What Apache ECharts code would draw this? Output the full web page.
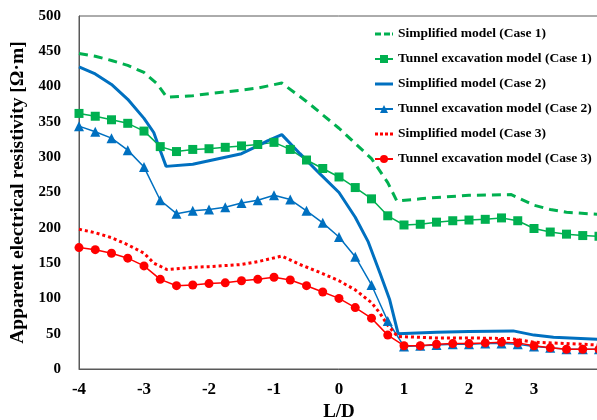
<!DOCTYPE html>
<html>
<head>
<meta charset="utf-8">
<script src="https://cdn.jsdelivr.net/npm/echarts@6/dist/echarts.min.js"></script>
<style>
html,body{margin:0;padding:0;background:#fff;}
#chart{width:597px;height:420px;}
</style>
</head>
<body>
<div id="chart"></div>
<script>
// ---- data ----
var legendNames = [
  'Simplified model (Case 1)',
  'Tunnel excavation model (Case 1)',
  'Simplified model (Case 2)',
  'Tunnel excavation model (Case 2)',
  'Simplified model (Case 3)',
  'Tunnel excavation model (Case 3)'
];
var ldTunnel = [-4,-3.75,-3.5,-3.25,-3,-2.75,-2.5,-2.25,-2,-1.75,-1.5,-1.25,-1,-0.75,-0.5,-0.25,0,0.25,0.5,0.75,1,1.25,1.5,1.75,2,2.25,2.5,2.75,3,3.25,3.5,3.75,4];
var tunnel1 = [362,358,353,348,337,315,308,311,312,314,316,318,321,311,296,284,272,257,241,217,204,205,208,210,211,212,214,210,199,194,191,189,188];
var tunnel2 = [344,336,327,310,286,239,220,224,226,229,235,239,246,240,224,207,187,159,119,68,32,33,34,35,35,36,36,35,32,30,28,28,28];
var tunnel3 = [172,169,164,157,146,127,118,119,121,122,125,127,130,126,118,109,100,87,72,48,33,33,35,36,36,37,38,37,33,30,28,28,28];

var simp1X = [-4,-3.75,-3.5,-3.25,-3,-2.8,-2.65,-2.25,-2,-1.5,-1.25,-0.88,-0.5,0,0.5,0.75,0.89,1.25,1.5,2,2.65,3,3.25,3.5,4];
var simp1Y = [447,443,437,430,420,404,385,387,390,395,398,405,379,341,298,264,238,241,243,246,247,232,226,222,219];

var simp2X = [-4,-3.75,-3.5,-3.25,-3,-2.85,-2.78,-2.66,-2.25,-2,-1.5,-1.25,-1.1,-0.88,-0.6,-0.3,0,0.25,0.45,0.63,0.78,0.91,1.5,2,2.68,3,3.3,4];
var simp2Y = [428,418,403,382,355,335,317,287,290,295,305,316,323,332,305,277,250,215,180,136,98,50,52,53,54,48,45,42];

var simp3X = [-4,-3.75,-3.5,-3.25,-3,-2.85,-2.65,-2.25,-2,-1.5,-1.25,-0.88,-0.6,-0.3,0,0.25,0.5,0.63,0.75,0.9,1.5,2,2.65,3,3.5,4];
var simp3Y = [198,193,186,176,164,150,141,144,145,148,152,160,148,137,125,112,94,79,62,46,44,44,43,38,36,34];

function pairs(xs, ys){ return xs.map(function(x,i){ return [x, ys[i]]; }); }

var GREEN = '#00B050', BLUE = '#0070C0', RED = '#FF0000';
var FONT = 'Liberation Serif';

// legend icons for the plain-line series (bbox anchors keep an 18x10 box)
var BOX = 'M0,0h0.01v0.01h-0.01zM0,9.99h0.01v0.01h-0.01z';
var ICON_DASH = 'path://' + BOX + 'M0,3.5h6v3h-6zM9,3.5h6v3h-6zM17,3.5h1v3h-1z';
var ICON_SOLID = 'path://' + BOX + 'M0,3.5h18v3h-18z';
var ICON_DOT = 'path://' + BOX + 'M0,3.5h3v3h-3zM5,3.5h3v3h-3zM10,3.5h3v3h-3zM15,3.5h3v3h-3z';

var chart = echarts.init(document.getElementById('chart'), null, {renderer:'canvas'});
chart.setOption({
  animation: false,
  backgroundColor: '#fff',
  grid: {left: 79, right: -2, top: 16, bottom: 51, show: true, borderColor: '#595959', borderWidth: 1,
         backgroundColor: 'transparent', containLabel: false, outerBoundsMode: 'none'},
  legend: {
    orient: 'vertical', left: 369, top: 22,
    itemWidth: 18, itemHeight: 10, itemGap: 11,
    data: [
      {name: legendNames[0], icon: ICON_DASH},
      {name: legendNames[1]},
      {name: legendNames[2], icon: ICON_SOLID},
      {name: legendNames[3]},
      {name: legendNames[4], icon: ICON_DOT},
      {name: legendNames[5]}
    ],
    textStyle: {fontFamily: FONT, fontWeight: 'bold', fontSize: 13.5, color: '#000'}
  },
  xAxis: {
    type: 'value', min: -4, max: 4, interval: 1,
    name: 'L/D', nameLocation: 'middle', nameGap: 33,
    nameTextStyle: {fontFamily: FONT, fontWeight: 'bold', fontSize: 19, color: '#000'},
    axisLine: {show: true, onZero: false, lineStyle: {color: '#595959', width: 1}},
    axisTick: {show: false},
    splitLine: {show: false},
    axisLabel: {fontFamily: FONT, fontWeight: 'bold', fontSize: 17, color: '#000', margin: 12, showMaxLabel: false}
  },
  yAxis: {
    type: 'value', min: 0, max: 500, interval: 50,
    name: 'Apparent electrical resistivity [Ω·m]', nameLocation: 'middle', nameGap: 48, nameRotate: 90,
    nameTextStyle: {fontFamily: FONT, fontWeight: 'bold', fontSize: 19.5, color: '#000'},
    axisLine: {show: true, onZero: false, lineStyle: {color: '#595959', width: 1}},
    axisTick: {show: false},
    splitLine: {show: false},
    axisLabel: {fontFamily: FONT, fontWeight: 'bold', fontSize: 15, color: '#000', margin: 18}
  },
  series: [
    {name: legendNames[0], type: 'line', data: pairs(simp1X, simp1Y), showSymbol: false, symbol: 'none',
     lineStyle: {color: GREEN, width: 3, type: [9, 6]}, itemStyle: {color: GREEN}},
    {name: legendNames[1], type: 'line', data: pairs(ldTunnel, tunnel1), symbol: 'rect', symbolSize: 9,
     lineStyle: {color: GREEN, width: 1.5}, itemStyle: {color: GREEN}},
    {name: legendNames[2], type: 'line', data: pairs(simp2X, simp2Y), showSymbol: false, symbol: 'none',
     lineStyle: {color: BLUE, width: 3}, itemStyle: {color: BLUE}},
    {name: legendNames[3], type: 'line', data: pairs(ldTunnel, tunnel2), symbol: 'triangle', symbolSize: 10,
     lineStyle: {color: BLUE, width: 1.5}, itemStyle: {color: BLUE}},
    {name: legendNames[4], type: 'line', data: pairs(simp3X, simp3Y), showSymbol: false, symbol: 'none',
     lineStyle: {color: RED, width: 3, type: [3, 3]}, itemStyle: {color: RED}},
    {name: legendNames[5], type: 'line', data: pairs(ldTunnel, tunnel3), symbol: 'circle', symbolSize: 9,
     lineStyle: {color: RED, width: 1.5}, itemStyle: {color: RED}}
  ]
});
</script>
</body>
</html>
